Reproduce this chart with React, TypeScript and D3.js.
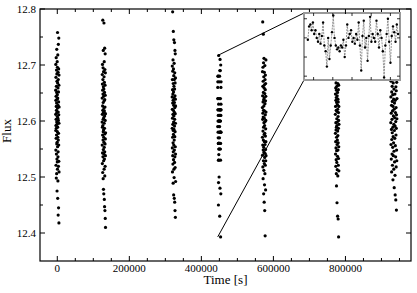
import React from "react";
import * as d3 from "d3";

// flux samples for each observing window
const flux1 = [12.612, 12.655, 12.583, 12.701, 12.548, 12.637, 12.592, 12.678, 12.521, 12.644, 12.603, 12.569, 12.713, 12.626, 12.498, 12.587, 12.662, 12.541, 12.619, 12.691, 12.575, 12.632, 12.506, 12.651, 12.598, 12.728, 12.559, 12.684, 12.615, 12.532, 12.671, 12.594, 12.475, 12.639, 12.562, 12.706, 12.608, 12.527, 12.647, 12.581, 12.696, 12.514, 12.623, 12.758, 12.554, 12.668, 12.589, 12.462, 12.641, 12.718, 12.571, 12.605, 12.493, 12.659, 12.536, 12.628, 12.687, 12.545, 12.432, 12.616, 12.674, 12.566, 12.737, 12.601, 12.519, 12.652, 12.578, 12.445, 12.634, 12.693, 12.557, 12.611, 12.748, 12.528, 12.664, 12.418, 12.596, 12.682, 12.509, 12.625];
const flux2 = [12.598, 12.641, 12.557, 12.683, 12.612, 12.524, 12.666, 12.589, 12.701, 12.543, 12.627, 12.575, 12.655, 12.508, 12.619, 12.78, 12.592, 12.674, 12.536, 12.648, 12.566, 12.695, 12.603, 12.497, 12.633, 12.581, 12.726, 12.549, 12.661, 12.615, 12.478, 12.584, 12.688, 12.529, 12.644, 12.571, 12.606, 12.47, 12.657, 12.541, 12.623, 12.775, 12.562, 12.679, 12.514, 12.636, 12.596, 12.706, 12.553, 12.46, 12.618, 12.669, 12.532, 12.587, 12.651, 12.447, 12.609, 12.73, 12.545, 12.638, 12.502, 12.577, 12.692, 12.44, 12.625, 12.559, 12.664, 12.519, 12.72, 12.601, 12.426, 12.646, 12.568, 12.686, 12.538, 12.613, 12.41, 12.579];
const flux3 = [12.643, 12.587, 12.698, 12.552, 12.621, 12.674, 12.509, 12.605, 12.656, 12.571, 12.795, 12.632, 12.538, 12.689, 12.594, 12.648, 12.523, 12.612, 12.709, 12.561, 12.637, 12.489, 12.583, 12.667, 12.545, 12.76, 12.619, 12.576, 12.693, 12.531, 12.652, 12.598, 12.468, 12.628, 12.681, 12.557, 12.745, 12.609, 12.514, 12.662, 12.585, 12.641, 12.499, 12.703, 12.566, 12.616, 12.462, 12.674, 12.548, 12.633, 12.74, 12.591, 12.526, 12.657, 12.603, 12.455, 12.686, 12.572, 12.624, 12.536, 12.726, 12.645, 12.44, 12.581, 12.668, 12.517, 12.613, 12.72, 12.554, 12.639, 12.428, 12.596, 12.677, 12.541, 12.627, 12.492];
// this window is the one shown in the inset
const flux4 = [12.59, 12.66, 12.67, 12.64, 12.68, 12.62, 12.64, 12.6, 12.58, 12.62, 12.57, 12.61, 12.68, 12.56, 12.53, 12.45, 12.6, 12.49, 12.56, 12.63, 12.717, 12.6, 12.56, 12.54, 12.55, 12.53, 12.56, 12.55, 12.59, 12.5, 12.56, 12.67, 12.6, 12.62, 12.64, 12.58, 12.6, 12.57, 12.62, 12.59, 12.68, 12.56, 12.43, 12.61, 12.69, 12.55, 12.6, 12.48, 12.61, 12.71, 12.58, 12.62, 12.6, 12.58, 12.69, 12.62, 12.55, 12.64, 12.6, 12.53, 12.393, 12.56, 12.62, 12.7, 12.58, 12.47, 12.61, 12.66, 12.63, 12.58, 12.67, 12.62];
const flux5 = [12.624, 12.571, 12.688, 12.539, 12.645, 12.603, 12.777, 12.557, 12.662, 12.518, 12.614, 12.696, 12.582, 12.634, 12.497, 12.671, 12.548, 12.607, 12.755, 12.566, 12.651, 12.529, 12.619, 12.704, 12.589, 12.47, 12.638, 12.553, 12.679, 12.512, 12.627, 12.597, 12.712, 12.544, 12.659, 12.576, 12.455, 12.641, 12.605, 12.524, 12.687, 12.563, 12.618, 12.486, 12.665, 12.592, 12.535, 12.44, 12.649, 12.578, 12.699, 12.506, 12.631, 12.558, 12.674, 12.599, 12.395, 12.542, 12.656, 12.611, 12.521, 12.682, 12.573, 12.636, 12.549, 12.477, 12.667, 12.586, 12.529, 12.644, 12.601, 12.563, 12.709, 12.616, 12.538];
const flux6 = [12.612, 12.578, 12.648, 12.541, 12.626, 12.701, 12.563, 12.659, 12.519, 12.597, 12.637, 12.552, 12.668, 12.584, 12.724, 12.531, 12.619, 12.642, 12.506, 12.589, 12.655, 12.484, 12.571, 12.633, 12.547, 12.688, 12.604, 12.526, 12.662, 12.592, 12.454, 12.617, 12.558, 12.645, 12.513, 12.598, 12.713, 12.566, 12.629, 12.537, 12.651, 12.43, 12.582, 12.621, 12.502, 12.667, 12.574, 12.639, 12.548, 12.693, 12.608, 12.425, 12.561, 12.634, 12.521, 12.656, 12.587, 12.615, 12.533, 12.393, 12.601, 12.664, 12.554, 12.626, 12.511, 12.679, 12.594];
const flux7 = [12.597, 12.643, 12.558, 12.671, 12.614, 12.532, 12.689, 12.585, 12.628, 12.509, 12.652, 12.567, 12.712, 12.603, 12.541, 12.662, 12.579, 12.635, 12.521, 12.618, 12.694, 12.553, 12.647, 12.589, 12.495, 12.626, 12.572, 12.668, 12.538, 12.609, 12.733, 12.561, 12.639, 12.514, 12.594, 12.657, 12.546, 12.621, 12.481, 12.676, 12.583, 12.632, 12.527, 12.606, 12.703, 12.569, 12.648, 12.503, 12.591, 12.468, 12.637, 12.556, 12.615, 12.682, 12.536, 12.599, 12.459, 12.661, 12.575, 12.624, 12.518, 12.654, 12.587, 12.441, 12.611, 12.548, 12.669, 12.529, 12.604, 12.64];

const fluxes = [flux1, flux2, flux3, flux4, flux5, flux6, flux7];
// observing windows [s]
const windowStart = [-4500, 124500, 319000, 445400, 569500, 772000, 926000];
const windowEnd = [5000, 134000, 328500, 454800, 579500, 782000, 943000];

const xTicks = [0, 200000, 400000, 600000, 800000];
const yTicks = [12.4, 12.5, 12.6, 12.7, 12.8];

const W = 417;
const H = 293;
const m = { left: 40, right: 6, top: 9, bottom: 32 };
const font = "Liberation Serif, Times New Roman, Times, serif";

function App() {
  const x = d3.scaleLinear().domain([-48000, 982000]).range([m.left, W - m.right]);
  const y = d3.scaleLinear().domain([12.35, 12.8]).range([H - m.bottom, m.top]);

  const points = fluxes.flatMap((fs, k) => {
    const t = d3.scaleLinear().domain([0, fs.length - 1]).range([windowStart[k], windowEnd[k]]);
    return fs.map((f, i) => ({ t: t(i), f }));
  });

  const x0 = m.left, x1 = W - m.right, y0 = H - m.bottom, y1 = m.top;
  const xMinor = d3.range(0, 982000, 50000).filter((v) => !xTicks.includes(v));
  const yMinor = d3.range(12.45, 12.8, 0.1).map((v) => +v.toFixed(2));

  // inset
  const ins = { left: 304, right: 400, top: 13, bottom: 80 };
  const ix = d3.scaleLinear().domain([445000, 455000]).range([ins.left, ins.right]);
  const iy = d3.scaleLinear().domain([12.38, 12.73]).range([ins.bottom, ins.top]);
  const t4 = d3.scaleLinear().domain([0, flux4.length - 1]).range([windowStart[3], windowEnd[3]]);
  const insetPts = flux4.map((f, i) => ({ t: t4(i), f }));
  const insetLine = d3.line<any>().x((d) => ix(d.t)).y((d) => iy(d.f));
  const ixTicks = d3.range(446000, 455000, 2000);
  const iyTicks = [12.4, 12.5, 12.6, 12.7];

  const zx = x(windowStart[3]);
  const zTop = y(d3.max(flux4)!);
  const zBot = y(d3.min(flux4)!);

  return (
    <svg width={W} height={H} style={{ position: "absolute", left: 0, top: 0, background: "#fff", fontFamily: font }}>
      {points.map((p, i) => (
        <circle key={i} cx={x(p.t)} cy={y(p.f)} r={1.6} fill="#000" />
      ))}

      <line x1={zx} y1={zTop} x2={ins.left} y2={ins.top} stroke="#000" strokeWidth={1} />
      <line x1={zx} y1={zBot} x2={ins.left} y2={ins.bottom} stroke="#000" strokeWidth={1} />

      <g>
        <rect x={ins.left} y={ins.top} width={ins.right - ins.left} height={ins.bottom - ins.top} fill="#fff" stroke="#999" strokeWidth={2} />
        {ixTicks.map((v) => (
          <g key={v}>
            <line x1={ix(v)} x2={ix(v)} y1={ins.top} y2={ins.top + 3} stroke="#000" strokeWidth={0.8} />
            <line x1={ix(v)} x2={ix(v)} y1={ins.bottom} y2={ins.bottom - 3} stroke="#000" strokeWidth={0.8} />
          </g>
        ))}
        {iyTicks.map((v) => (
          <g key={v}>
            <line x1={ins.left} x2={ins.left + 3} y1={iy(v)} y2={iy(v)} stroke="#000" strokeWidth={0.8} />
            <line x1={ins.right} x2={ins.right - 3} y1={iy(v)} y2={iy(v)} stroke="#000" strokeWidth={0.8} />
          </g>
        ))}
        <path d={insetLine(insetPts) || ""} fill="none" stroke="#777" strokeWidth={0.8} strokeDasharray="2,1" />
        {insetPts.map((p, i) => (
          <circle key={i} cx={ix(p.t)} cy={iy(p.f)} r={1.2} fill="#000" />
        ))}
      </g>

      <rect x={x0} y={y1} width={x1 - x0} height={y0 - y1} fill="none" stroke="#000" strokeWidth={1.2} />
      {xTicks.map((v) => (
        <g key={v}>
          <line x1={x(v)} x2={x(v)} y1={y0} y2={y0 - 5} stroke="#000" />
          <line x1={x(v)} x2={x(v)} y1={y1} y2={y1 + 5} stroke="#000" />
          <text x={x(v)} y={y0 + 11} fontSize={11} textAnchor="middle">{v}</text>
        </g>
      ))}
      {xMinor.map((v) => (
        <g key={v}>
          <line x1={x(v)} x2={x(v)} y1={y0} y2={y0 - 3} stroke="#000" />
          <line x1={x(v)} x2={x(v)} y1={y1} y2={y1 + 3} stroke="#000" />
        </g>
      ))}
      {yTicks.map((v) => (
        <g key={v}>
          <line x1={x0} x2={x0 + 5} y1={y(v)} y2={y(v)} stroke="#000" />
          <line x1={x1} x2={x1 - 5} y1={y(v)} y2={y(v)} stroke="#000" />
          <text x={x0 - 4} y={y(v)} dy="0.35em" fontSize={11} textAnchor="end">{v.toFixed(1)}</text>
        </g>
      ))}
      {yMinor.map((v) => (
        <g key={v}>
          <line x1={x0} x2={x0 + 3} y1={y(v)} y2={y(v)} stroke="#000" />
          <line x1={x1} x2={x1 - 3} y1={y(v)} y2={y(v)} stroke="#000" />
        </g>
      ))}

      <text x={(x0 + x1) / 2} y={284} fontSize={13} textAnchor="middle">Time [s]</text>
      <text transform="translate(11,131) rotate(-90)" fontSize={13} textAnchor="middle">Flux</text>
    </svg>
  );
}

export default App;
